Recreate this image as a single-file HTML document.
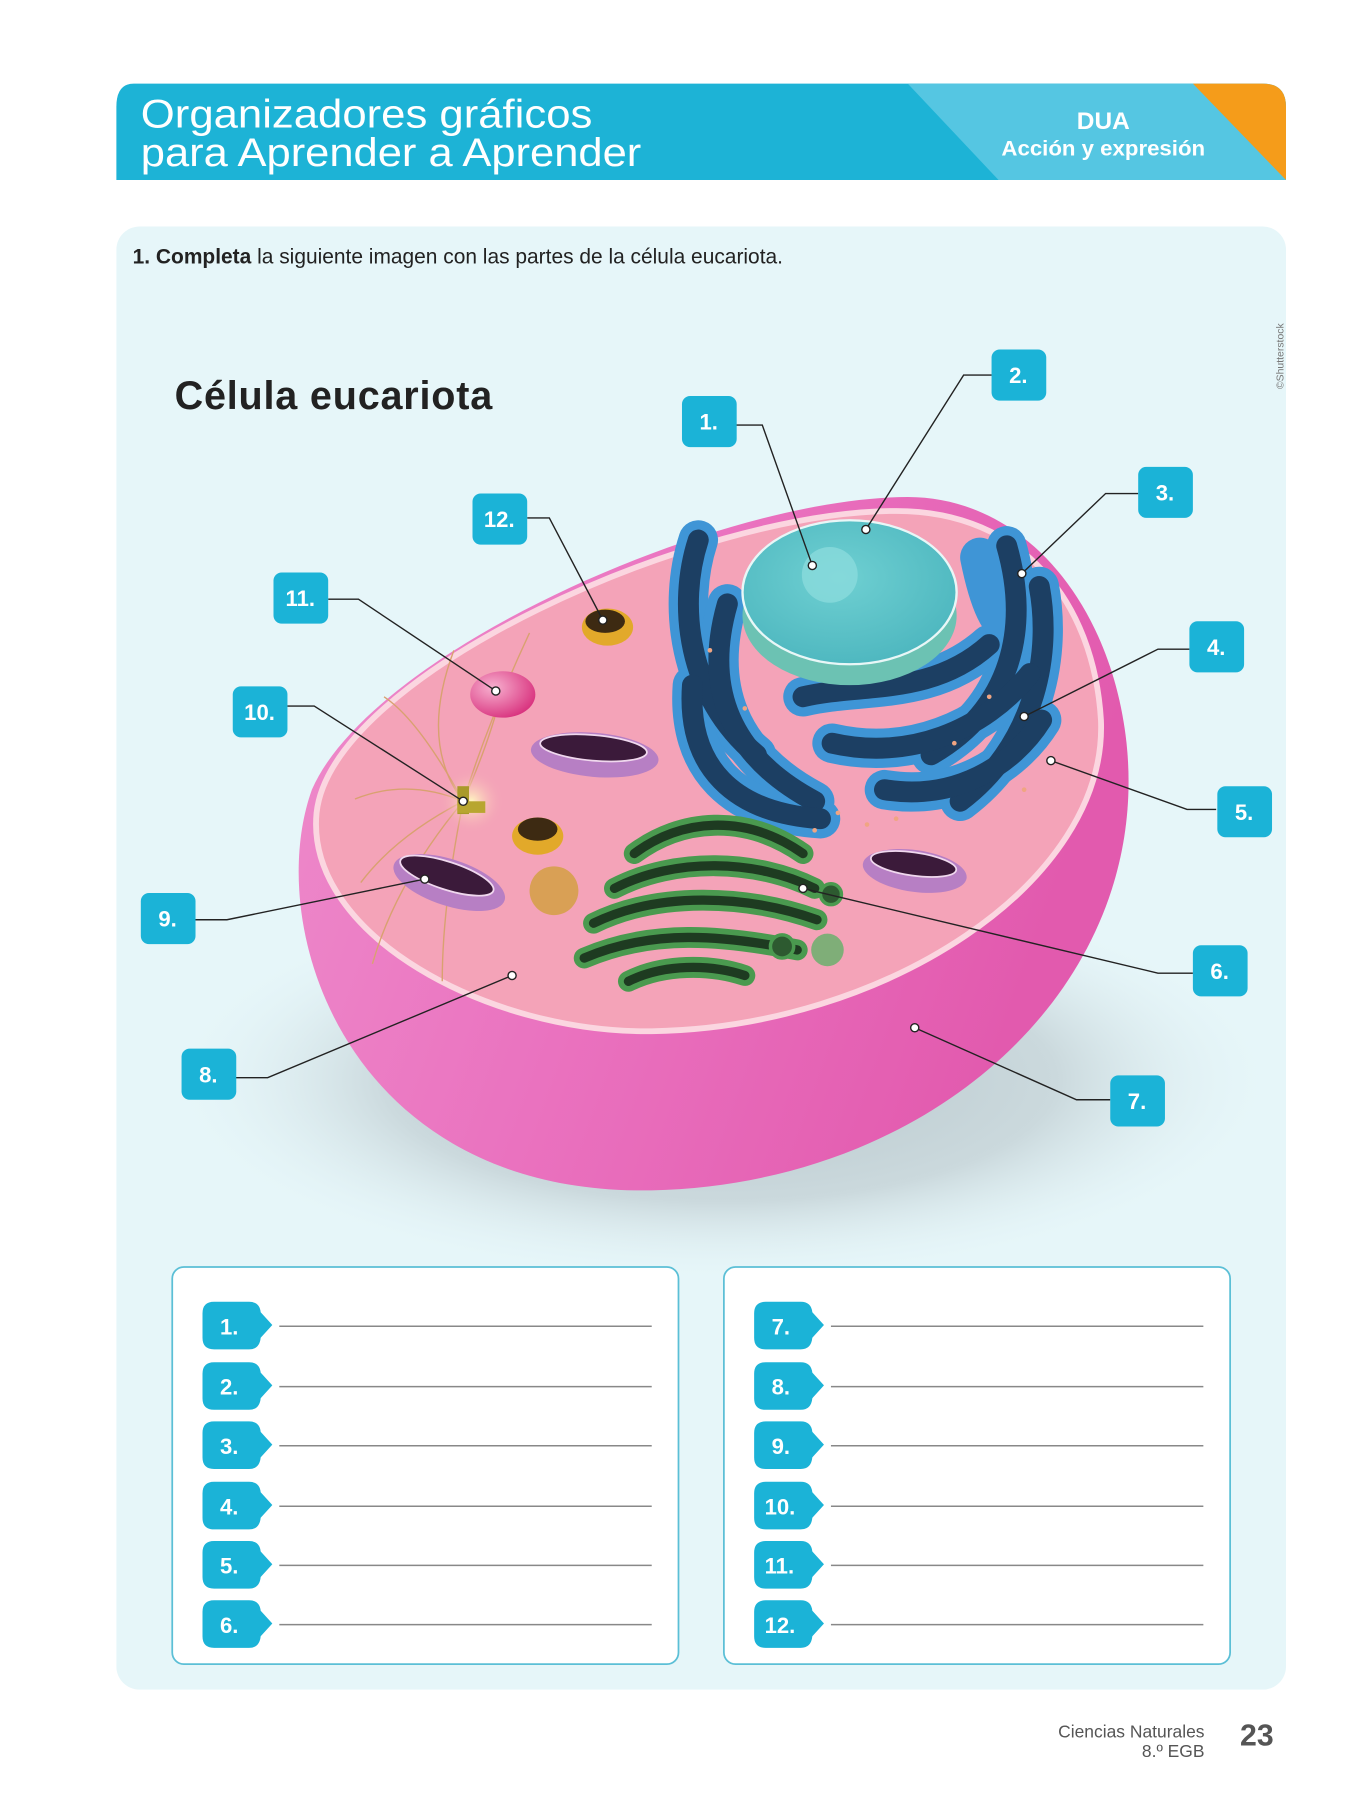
<!DOCTYPE html>
<html><head><meta charset="utf-8"><style>
html,body{margin:0;padding:0;background:#fff;width:1350px;height:1800px;overflow:hidden}
svg{display:block}
text{font-family:"Liberation Sans",sans-serif}
</style></head><body>
<svg width="1350" height="1800" viewBox="0 0 1160 1550" preserveAspectRatio="none" xmlns="http://www.w3.org/2000/svg">
<defs>
<linearGradient id="body" x1="0" y1="0" x2="1" y2="0.3">
<stop offset="0" stop-color="#ee8dcc"/><stop offset="0.5" stop-color="#ea72bf"/><stop offset="1" stop-color="#e25aae"/></linearGradient>
<radialGradient id="shadow" cx="0.5" cy="0.5" r="0.5"><stop offset="0" stop-color="#b7c6cb"/><stop offset="0.6" stop-color="#cbd9dd"/><stop offset="1" stop-color="#e6f6f9" stop-opacity="0"/></radialGradient>
<radialGradient id="nuc" cx="0.45" cy="0.4" r="0.6"><stop offset="0" stop-color="#6fd0d2"/><stop offset="1" stop-color="#4fb8c0"/></radialGradient>
<radialGradient id="glow" cx="0.5" cy="0.5" r="0.5"><stop offset="0" stop-color="#fff6c0"/><stop offset="1" stop-color="#f4a3b8" stop-opacity="0"/></radialGradient>
<radialGradient id="lys" cx="0.35" cy="0.35" r="0.7"><stop offset="0" stop-color="#f7b0cf"/><stop offset="1" stop-color="#d9347f"/></radialGradient>
</defs>

<!-- header -->
<path d="M115 72 H1085 Q1105 72 1105 92 V155 H100 V92 Q100 72 115 72 Z" fill="#1db3d6"/>
<path d="M780 72 H1085 Q1105 72 1105 92 V155 H858 Z" fill="#55c6e2"/>
<path d="M1025 72 H1085 Q1105 72 1105 92 V155 Z" fill="#f59c1a"/>
<text x="121" y="110" font-size="34" fill="#fff" textLength="388" lengthAdjust="spacingAndGlyphs">Organizadores gráficos</text>
<text x="121" y="143" font-size="34" fill="#fff" textLength="430" lengthAdjust="spacingAndGlyphs">para Aprender a Aprender</text>
<text x="948" y="111" font-size="21" font-weight="bold" fill="#fff" text-anchor="middle">DUA</text>
<text x="948" y="134" font-size="18" font-weight="bold" fill="#fff" text-anchor="middle" textLength="175" lengthAdjust="spacingAndGlyphs">Acción y expresión</text>

<!-- panel -->
<rect x="100" y="195" width="1005" height="1260" rx="20" fill="#e6f6f9"/>
<text x="114" y="227" font-size="18" fill="#222"><tspan font-weight="bold">1.   Completa</tspan> la siguiente imagen con las partes de la célula eucariota.</text>
<text transform="translate(1103,335) rotate(-90)" font-size="9" fill="#777">©Shutterstock</text>
<text x="150" y="352" font-size="34" font-weight="bold" fill="#222" textLength="273">Célula eucariota</text>

<!-- shadow -->
<ellipse cx="620" cy="930" rx="480" ry="175" fill="url(#shadow)"/>

<!-- cell body -->
<path d="M268 680 C225 800 300 1030 560 1025 C800 1020 990 850 968 640 C955 520 880 428 780 428 C620 428 320 560 268 680 Z" fill="url(#body)"/>
<path d="M272 700 C262 805 420 890 560 888 C760 885 952 760 946 620 C940 520 880 440 770 440 C600 440 285 580 272 700 Z" fill="#f4a3b8" stroke="#fbd6e0" stroke-width="5"/>

<!-- centrosome fibers -->
<g stroke="#d9a170" stroke-width="1.2" fill="none">
<path d="M398 690 Q360 640 390 560"/><path d="M398 690 Q420 620 455 545"/><path d="M398 690 Q350 670 305 688"/>
<path d="M398 690 Q340 720 310 760"/><path d="M398 690 Q340 760 320 830"/><path d="M398 690 Q380 780 380 845"/>
<path d="M398 690 Q420 640 430 600"/><path d="M398 690 Q360 620 330 600"/>
</g>
<circle cx="405" cy="690" r="28" fill="url(#glow)"/>
<rect x="393" y="677" width="10" height="24" fill="#a99a2a"/><rect x="393" y="690" width="24" height="10" fill="#b8a630"/>

<!-- lysosome -->
<ellipse cx="432" cy="598" rx="28" ry="20" fill="url(#lys)"/>
<!-- vesicles -->
<ellipse cx="522" cy="540" rx="22" ry="16" fill="#e2a92a"/><ellipse cx="520" cy="535" rx="17" ry="10" fill="#3d2a12"/>
<ellipse cx="462" cy="720" rx="22" ry="16" fill="#e2a92a"/><ellipse cx="462" cy="714" rx="17" ry="10" fill="#3d2a12"/>
<circle cx="476" cy="767" r="21" fill="#d9a055"/>
<circle cx="711" cy="818" r="14" fill="#7fae78"/>

<!-- mitochondria -->
<g>
<ellipse cx="511" cy="650" rx="55" ry="19" fill="#b77fc4" transform="rotate(5 511 650)"/>
<ellipse cx="510" cy="644" rx="46" ry="11" fill="#3b1a3a" stroke="#f0d8ee" stroke-width="1.5" transform="rotate(5 510 644)"/>
<ellipse cx="386" cy="760" rx="50" ry="20" fill="#b77fc4" transform="rotate(18 386 760)"/>
<ellipse cx="384" cy="754" rx="42" ry="12" fill="#3b1a3a" stroke="#f0d8ee" stroke-width="1.5" transform="rotate(18 384 754)"/>
<ellipse cx="786" cy="750" rx="45" ry="18" fill="#b77fc4" transform="rotate(8 786 750)"/>
<ellipse cx="785" cy="744" rx="37" ry="10" fill="#3b1a3a" stroke="#f0d8ee" stroke-width="1.5" transform="rotate(8 785 744)"/>
</g>

<!-- ER -->
<g fill="none" stroke-linecap="round">
<g stroke="#3f95d6" stroke-width="34">
<path d="M600 465 C582 520 590 600 650 650"/><path d="M625 520 C605 590 625 650 700 690"/><path d="M595 590 C590 660 630 700 705 705"/>
<path d="M865 470 C885 540 870 610 800 650"/><path d="M893 505 C905 570 885 645 825 690"/>
<path d="M690 600 C740 588 800 600 850 555"/><path d="M715 640 C780 655 845 630 885 580"/><path d="M760 680 C820 690 870 660 895 620"/>
<path d="M842 480 C850 520 860 540 870 540"/>
</g>
<g stroke="#1c3f63" stroke-width="18">
<path d="M600 465 C582 520 590 600 650 650"/><path d="M625 520 C605 590 625 650 700 690"/><path d="M595 590 C590 660 630 700 705 705"/>
<path d="M865 470 C885 540 870 610 800 650"/><path d="M893 505 C905 570 885 645 825 690"/>
<path d="M690 600 C740 588 800 600 850 555"/><path d="M715 640 C780 655 845 630 885 580"/><path d="M760 680 C820 690 870 660 895 620"/>
</g>
</g>
<!-- nucleus -->
<ellipse cx="730" cy="530" rx="92" ry="60" fill="#6cc2b3"/>
<ellipse cx="730" cy="510" rx="92" ry="62" fill="url(#nuc)" stroke="#e8f7f7" stroke-width="2"/>
<circle cx="713" cy="495" r="24" fill="#8adbdc" opacity="0.8"/>

<!-- golgi -->
<g fill="none" stroke-linecap="round">
<g stroke="#4a9a4f" stroke-width="18">
<path d="M545 735 C585 705 640 700 690 735"/><path d="M528 765 C580 738 650 740 700 765"/><path d="M510 795 C565 768 640 770 702 792"/><path d="M502 825 C560 800 620 805 685 818"/><path d="M540 845 C570 830 610 830 640 840"/>
</g>
<g stroke="#1e3b21" stroke-width="8">
<path d="M545 735 C585 705 640 700 690 735"/><path d="M528 765 C580 738 650 740 700 765"/><path d="M510 795 C565 768 640 770 702 792"/><path d="M502 825 C560 800 620 805 685 818"/><path d="M540 845 C570 830 610 830 640 840"/>
</g>
</g>
<circle cx="714" cy="770" r="9" fill="#2d5a30" stroke="#4a9a4f" stroke-width="3"/>
<circle cx="672" cy="815" r="10" fill="#2d5a30" stroke="#4a9a4f" stroke-width="3"/>

<!-- ribosome dots -->
<g fill="#f0a582">
<circle cx="903" cy="655" r="3"/><circle cx="720" cy="700" r="2"/><circle cx="745" cy="710" r="2"/><circle cx="770" cy="705" r="2"/><circle cx="880" cy="680" r="2"/><circle cx="700" cy="715" r="2"/>
<circle cx="610" cy="560" r="2"/><circle cx="640" cy="610" r="2"/><circle cx="850" cy="600" r="2"/><circle cx="820" cy="640" r="2"/>
</g>

<!-- connectors -->
<g stroke="#222" stroke-width="1.2" fill="none">
<polyline points="632,366 655,366 698,487"/>
<polyline points="852,323 828,323 744,456"/>
<polyline points="978,425 950,425 878,494"/>
<polyline points="1022,559 995,559 880,617"/>
<polyline points="1045,697 1020,697 903,655"/>
<polyline points="1025,838 995,838 690,765"/>
<polyline points="954,947 925,947 786,885"/>
<polyline points="202,928 230,928 440,840"/>
<polyline points="168,792 195,792 365,757"/>
<polyline points="247,608 270,608 398,690"/>
<polyline points="282,516 308,516 426,595"/>
<polyline points="453,446 472,446 518,534"/>
</g>
<g fill="#fff" stroke="#222" stroke-width="1.2">
<circle cx="698" cy="487" r="3.5"/><circle cx="744" cy="456" r="3.5"/><circle cx="878" cy="494" r="3.5"/><circle cx="880" cy="617" r="3.5"/><circle cx="903" cy="655" r="3.5"/><circle cx="690" cy="765" r="3.5"/><circle cx="786" cy="885" r="3.5"/><circle cx="440" cy="840" r="3.5"/><circle cx="365" cy="757" r="3.5"/><circle cx="398" cy="690" r="3.5"/><circle cx="426" cy="595" r="3.5"/><circle cx="518" cy="534" r="3.5"/>
</g>

<!-- labels -->
<g fill="#1bb3d7">
<rect x="586" y="341" width="47" height="44" rx="7"/><rect x="852" y="301" width="47" height="44" rx="7"/>
<rect x="978" y="402" width="47" height="44" rx="7"/><rect x="1022" y="535" width="47" height="44" rx="7"/>
<rect x="1046" y="677" width="47" height="44" rx="7"/><rect x="1025" y="814" width="47" height="44" rx="7"/>
<rect x="954" y="926" width="47" height="44" rx="7"/><rect x="156" y="903" width="47" height="44" rx="7"/>
<rect x="121" y="769" width="47" height="44" rx="7"/><rect x="200" y="591" width="47" height="44" rx="7"/>
<rect x="235" y="493" width="47" height="44" rx="7"/><rect x="406" y="425" width="47" height="44" rx="7"/>
</g>
<g fill="#fff" font-size="19" font-weight="bold" text-anchor="middle">
<text x="609" y="370">1.</text><text x="875" y="330">2.</text><text x="1001" y="431">3.</text><text x="1045" y="564">4.</text>
<text x="1069" y="706">5.</text><text x="1048" y="843">6.</text><text x="977" y="955">7.</text><text x="179" y="932">8.</text>
<text x="144" y="798">9.</text><text x="223" y="620">10.</text><text x="258" y="522">11.</text><text x="429" y="454">12.</text>
</g>

<!-- answer boxes -->
<rect x="148" y="1091" width="435" height="342" rx="10" fill="#fff" stroke="#5bbfd6" stroke-width="1.5"/>
<rect x="622" y="1091" width="435" height="342" rx="10" fill="#fff" stroke="#5bbfd6" stroke-width="1.5"/>
<g id="tags">
<g fill="#1bb3d7">
<path d="M184 1121 H214 Q223 1121 224 1130 L234 1141 L224 1152 Q223 1162 214 1162 H184 Q174 1162 174 1152 V1131 Q174 1121 184 1121 Z"/>
<path d="M184 1173 H214 Q223 1173 224 1182 L234 1193 L224 1204 Q223 1214 214 1214 H184 Q174 1214 174 1204 V1183 Q174 1173 184 1173 Z"/>
<path d="M184 1224 H214 Q223 1224 224 1233 L234 1244 L224 1255 Q223 1265 214 1265 H184 Q174 1265 174 1255 V1234 Q174 1224 184 1224 Z"/>
<path d="M184 1276 H214 Q223 1276 224 1285 L234 1296 L224 1307 Q223 1317 214 1317 H184 Q174 1317 174 1307 V1286 Q174 1276 184 1276 Z"/>
<path d="M184 1327 H214 Q223 1327 224 1336 L234 1347 L224 1358 Q223 1368 214 1368 H184 Q174 1368 174 1358 V1337 Q174 1327 184 1327 Z"/>
<path d="M184 1378 H214 Q223 1378 224 1387 L234 1398 L224 1409 Q223 1419 214 1419 H184 Q174 1419 174 1409 V1388 Q174 1378 184 1378 Z"/>
</g>
<g stroke="#888" stroke-width="1.3">
<line x1="240" y1="1142" x2="560" y2="1142"/><line x1="240" y1="1194" x2="560" y2="1194"/><line x1="240" y1="1245" x2="560" y2="1245"/>
<line x1="240" y1="1297" x2="560" y2="1297"/><line x1="240" y1="1348" x2="560" y2="1348"/><line x1="240" y1="1399" x2="560" y2="1399"/>
</g>
</g>
<use href="#tags" x="474"/>
<g fill="#fff" font-size="19" font-weight="bold">
<text x="189" y="1149">1.</text><text x="189" y="1201">2.</text><text x="189" y="1252">3.</text><text x="189" y="1304">4.</text><text x="189" y="1355">5.</text><text x="189" y="1406">6.</text>
<text x="663" y="1149">7.</text><text x="663" y="1201">8.</text><text x="663" y="1252">9.</text><text x="657" y="1304">10.</text><text x="657" y="1355">11.</text><text x="657" y="1406">12.</text>
</g>

<!-- footer -->
<text x="1035" y="1496" font-size="15" fill="#555" text-anchor="end">Ciencias Naturales</text>
<text x="1035" y="1513" font-size="15" fill="#555" text-anchor="end">8.º EGB</text>
<text x="1080" y="1503" font-size="26" font-weight="bold" fill="#555" text-anchor="middle">23</text>
</svg>
</body></html>
